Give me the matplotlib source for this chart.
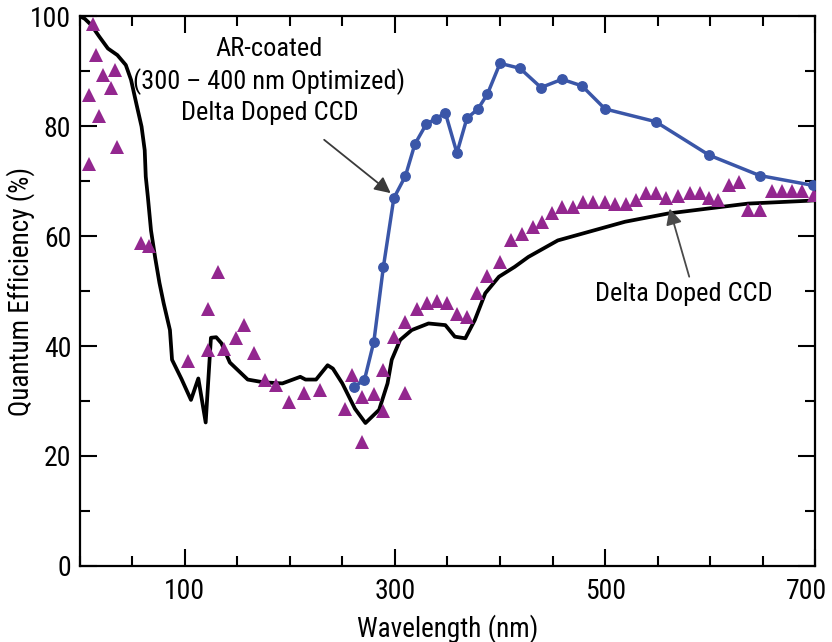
import matplotlib.pyplot as plt
from matplotlib import font_manager
from matplotlib.ticker import MultipleLocator, FixedLocator
from matplotlib.transforms import ScaledTranslation

# Black curve: delta doped CCD (uncoated)
black_x = [0, 5, 11, 19, 27, 36, 44, 49, 54, 59, 62, 63, 65, 68, 72, 76, 80, 86, 88, 97,
           106, 113, 120, 125, 130, 135, 143, 160, 175, 193, 210, 215, 225, 236, 241, 250,
           262, 272, 285, 293, 297, 305, 316, 332, 348, 357, 367, 376, 386, 399, 414, 427,
           455, 487, 519, 560, 598, 636, 692, 700]
black_y = [100, 99.5, 98.4, 96.2, 94.1, 92.9, 91.1, 88.4, 84.1, 79.9, 75.6, 70.8, 67.1, 61, 56,
           51.5, 47.8, 42.9, 37.5, 34, 30.2, 34.1, 26.1, 41.5, 41.6, 40.5, 37, 33.9, 33.4, 33.2,
           34.4, 33.9, 33.9, 36.5, 35.9, 33.2, 28.6, 26.0, 28.4, 33.2, 37.5, 41.1, 42.9, 44.1,
           43.8, 41.7, 41.4, 44.7, 49.6, 52.6, 54.4, 56.2, 59.2, 60.9, 62.6, 64.1, 65.0, 65.9,
           66.4, 66.5]

# Blue curve: AR-coated (300-400 nm optimized) delta doped CCD
ar_x = [261, 271, 280, 289, 299, 310, 319, 330, 339, 348, 359, 368.5, 379, 388, 400, 419,
        439, 459, 478, 500, 548, 599, 647, 698]
ar_y = [32.6, 33.8, 40.8, 54.3, 66.9, 70.9, 76.7, 80.4, 81.3, 82.4, 75.1, 81.4, 83.1, 85.8,
        91.4, 90.5, 87.0, 88.5, 87.3, 83.1, 80.8, 74.7, 71.0, 69.2]

# Triangles: measured points
tri_x = [8.7, 8.7, 12.8, 15.9, 18.2, 22.3, 30.2, 33.4, 35.5, 58.6, 65.9, 103.2, 122, 122, 132,
         137, 149, 156, 166, 176, 187, 199, 214, 229, 253, 259.5, 269, 269, 280, 289, 289, 299,
         310, 310, 320.6, 330.6, 340, 349.6, 359, 368.5, 378, 387.5, 400, 410, 421, 431.8,
         439.6, 449, 458.6, 469.7, 479, 488.6, 499.7, 509.2, 520.2, 529.7, 539.2, 548.6, 558,
         569.2, 580.3, 589.8, 599.2, 607.1, 618.2, 627.7, 635.5, 647.2, 659.2, 668.7, 678.2,
         687.7, 698.8]
tri_y = [85.6, 73.1, 98.5, 92.9, 81.8, 89.3, 87.0, 90.2, 76.2, 58.8, 58.2, 37.3, 46.7, 39.3,
         53.5, 39.5, 41.4, 43.8, 38.7, 33.8, 32.9, 29.9, 31.4, 32.0, 28.6, 34.8, 22.6, 30.7,
         31.3, 28.1, 35.6, 41.7, 31.5, 44.4, 46.7, 47.9, 48.2, 47.9, 45.8, 45.3, 49.6, 52.7,
         55.3, 59.2, 60.4, 61.7, 62.6, 64.1, 65.3, 65.3, 66.2, 66.2, 66.2, 65.9, 65.9, 66.5,
         67.8, 67.8, 66.9, 67.2, 67.8, 67.8, 66.9, 66.5, 69.3, 69.9, 64.7, 64.7, 68.1, 68.1,
         68.1, 68.1, 67.5]

x_ticks = [100, 300, 500, 700]
y_ticks = [0, 20, 40, 60, 80, 100]

# pick a condensed sans if one is installed, else shrink Liberation Sans
installed = {f.name for f in font_manager.fontManager.ttflist}
font, scale = 'Liberation Sans', 0.87
for cand in ['Roboto Condensed', 'Open Sans Condensed', 'Liberation Sans Narrow', 'Arial Narrow']:
    if cand in installed:
        font, scale = cand, 1.0
        break
plt.rcParams['font.family'] = [font, 'DejaVu Sans']
fs_tick = 20 * scale
fs_text = 19 * scale

fig = plt.figure(figsize=(8.32, 6.42), dpi=100)
ax = fig.add_axes([0.0956, 0.1184, 0.8844, 0.8566])

ax.plot(black_x, black_y, color='black', lw=2.7, zorder=2)
ax.plot(tri_x, tri_y, linestyle='none', marker='^', ms=10.5, color='#93278f',
        markeredgewidth=0, zorder=3)
ax.plot(ar_x, ar_y, color='#3a56a8', lw=2.5, marker='o', ms=6.8, zorder=4)

ax.set_xlim(0, 700)
ax.set_ylim(0, 100)
ax.xaxis.set_major_locator(FixedLocator(x_ticks))
ax.xaxis.set_minor_locator(MultipleLocator(50))
ax.yaxis.set_major_locator(FixedLocator(y_ticks))
ax.yaxis.set_minor_locator(MultipleLocator(10))
ax.tick_params(which='both', direction='in', top=True, right=True, width=1.5,
               labelsize=fs_tick)
ax.tick_params(axis='x', pad=9)
ax.tick_params(axis='y', pad=6)
ax.tick_params(which='major', length=12)
ax.tick_params(which='minor', length=7.5)
for sp in ax.spines.values():
    sp.set_linewidth(1.6)

# last x label sits a little left so it stays inside the figure
last = ax.get_xticklabels()[-1]
last.set_transform(last.get_transform() + ScaledTranslation(-0.09, 0, fig.dpi_scale_trans))

ax.set_xlabel('Wavelength (nm)', fontsize=fs_text * 1.03, va='center')
ax.xaxis.set_label_coords(0.5, -0.113)
ax.set_ylabel('Quantum Efficiency (%)', fontsize=fs_text * 1.03, va='center')
ax.yaxis.set_label_coords(-0.08, 0.5)

ax.text(180.6, 88.2, 'AR-coated\n(300 – 400 nm Optimized)\nDelta Doped CCD',
        fontsize=fs_text, ha='center', va='center', linespacing=1.33)
ax.annotate('', xy=(296, 67.8), xytext=(232.7, 77.5),
            arrowprops=dict(arrowstyle='-|>', color='#3a3a3a', lw=1.3, mutation_scale=24,
                            shrinkA=0, shrinkB=0))
ax.text(575, 49.5, 'Delta Doped CCD', fontsize=fs_text, ha='center', va='center')
ax.annotate('', xy=(561.3, 65.0), xytext=(580, 52.6),
            arrowprops=dict(arrowstyle='-|>', color='#4a4a4a', lw=1.3, mutation_scale=24,
                            shrinkA=0, shrinkB=0))

fig.savefig('out.png', dpi=100)
